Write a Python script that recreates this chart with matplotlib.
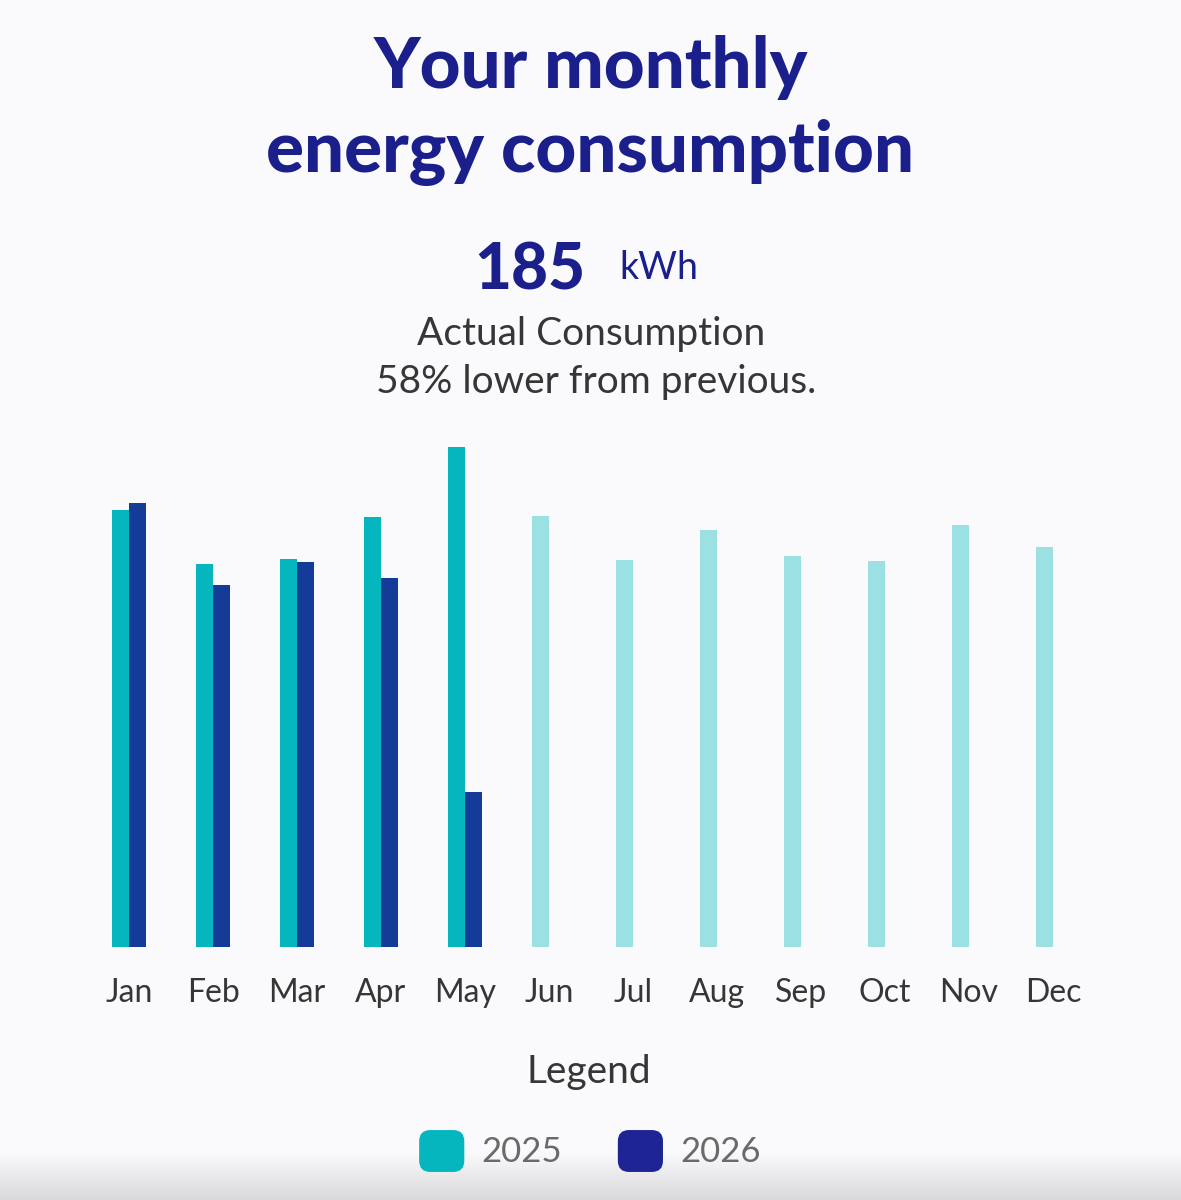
import numpy as np
import matplotlib
matplotlib.use('Agg')
import matplotlib.pyplot as plt
from matplotlib.patches import Patch, FancyBboxPatch
from matplotlib.legend_handler import HandlerPatch

months = ['Jan', 'Feb', 'Mar', 'Apr', 'May', 'Jun', 'Jul', 'Aug', 'Sep', 'Oct', 'Nov', 'Dec']
# 2025 bars already compared with 2026 (Jan-May)
cons_2025 = [522, 457, 463, 513, 597]
cons_2026 = [530, 432, 459, 440, 185]
# rest of 2025, drawn pale
rest_months = [5, 6, 7, 8, 9, 10, 11]
rest_2025 = [514, 462, 498, 467, 461, 504, 477]

teal = '#05b6be'
pale = '#9be1e3'
navy = '#143b98'
legend_navy = '#1e2494'
title_col = '#1a1f8c'
text_col = '#363636'
FONT = 'Lato'

W, H = 1181, 1200
fig = plt.figure(figsize=(W / 100, H / 100), dpi=100)
fig.patch.set_facecolor('#fafafc')

# soft grey shading at the bottom edge
bg = fig.add_axes([0, 0, 1, 0.04], zorder=-5)
grad = np.linspace(0, 1, 50).reshape(-1, 1)
bg.imshow(grad, aspect='auto', cmap=matplotlib.colors.LinearSegmentedColormap.from_list('g', ['#d9d9db', '#fafafc']),
          origin='lower', extent=[0, 1, 0, 1])
bg.axis('off')

ax = fig.add_axes([87 / W, 1 - 947 / H, 1008 / W, (947 - 440) / H])
ax.set_facecolor('none')
x = np.arange(len(cons_2025))
w = 0.2
ax.bar(x - w / 2, cons_2025, width=w, color=teal)
ax.bar(x + w / 2, cons_2026, width=w, color=navy)
ax.bar(np.array(rest_months) - w / 2, rest_2025, width=w, color=pale)
ax.set_xlim(-0.5, 11.5)
ax.set_ylim(0, 605)
ax.set_xticks(np.arange(12))
ax.set_xticklabels(months, fontsize=23, color=text_col, family=FONT)
ax.tick_params(axis='x', length=0, pad=22)
ax.set_yticks([])
for s in ax.spines.values():
    s.set_visible(False)

fig.text(0.5, 1 - 88 / H, 'Your monthly', ha='center', va='baseline', fontsize=51,
         fontweight=900, color=title_col, family=FONT)
fig.text(0.5, 1 - 172 / H, 'energy consumption', ha='center', va='baseline', fontsize=51,
         fontweight=900, color=title_col, family=FONT)
fig.text(585 / W, 1 - 290 / H, '185', ha='right', va='baseline', fontsize=46,
         fontweight=900, color=title_col, family=FONT)
fig.text(619 / W, 1 - 279 / H, 'kWh', ha='left', va='baseline', fontsize=27,
         color=title_col, family=FONT)
fig.text(591 / W, 1 - 345 / H, 'Actual Consumption', ha='center', va='baseline', fontsize=28,
         color=text_col, family=FONT)
fig.text(596 / W, 1 - 393 / H, '58% lower from previous.', ha='center', va='baseline', fontsize=28,
         color=text_col, family=FONT)
fig.text(589 / W, 1 - 1083 / H, 'Legend', ha='center', va='baseline', fontsize=28,
         color=text_col, family=FONT)


class RoundHandler(HandlerPatch):
    def create_artists(self, legend, orig_handle, xdescent, ydescent, width, height, fontsize, trans):
        p = FancyBboxPatch((-xdescent, -ydescent), width, height,
                           boxstyle='round,pad=0,rounding_size=8',
                           fc=orig_handle.get_facecolor(), ec='none', transform=trans)
        return [p]


handles = [Patch(color=teal, label='2025'), Patch(color=legend_navy, label='2026')]
leg = fig.legend(handles=handles, loc='center', bbox_to_anchor=(590 / W, 1 - 1151 / H), ncol=2,
                 frameon=False, handler_map={Patch: RoundHandler()},
                 prop={'family': FONT, 'size': 25}, handlelength=1.3, handleheight=1.48,
                 handletextpad=0.5, columnspacing=1.6)
for t in leg.get_texts():
    t.set_color('#6a6a6a')

fig.savefig('out.png', dpi=100, facecolor=fig.get_facecolor())
